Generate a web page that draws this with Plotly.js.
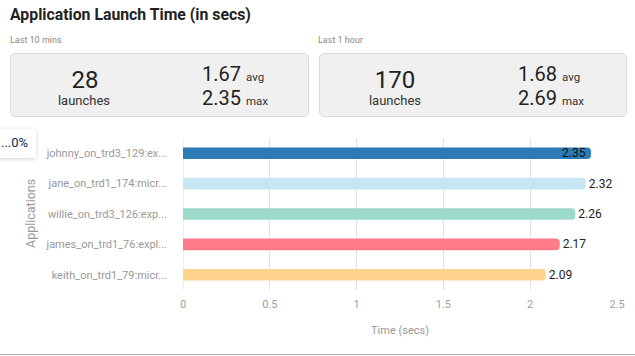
<!DOCTYPE html>
<html>
<head>
<meta charset="utf-8">
<script src="https://cdn.plot.ly/plotly-3.0.1.min.js"></script>
<style>
  html, body { margin:0; padding:0; background:#fff; font-family: Roboto, "Noto Sans", sans-serif; }
  #wrap { position:relative; width:635px; height:356px; overflow:hidden; }
  #chart { position:absolute; left:0; top:0; width:635px; height:356px; }
  .abs { position:absolute; white-space:nowrap; }
  .title { left:10px; top:5px; font-size:15.8px; font-weight:700; color:#222; }
  .sub { font-size:9px; color:#888; top:35px; }
  .card { position:absolute; top:53px; height:64px; background:#f0f0f0; border:1px solid #dadada; border-radius:5px; box-sizing:border-box; }
  .big { font-size:24px; color:#222; transform:translateX(-50%); }
  .lab { font-size:13px; color:#333; transform:translateX(-50%); }
  .num { font-size:20px; color:#222; }
  .unit { font-size:11.5px; color:#333; margin-left:5px; }
  .tip { left:-6px; top:129px; width:42px; height:29px; background:#fff; box-shadow:0 1px 4px rgba(0,0,0,0.18); border-radius:2px; }
  .tip span { position:absolute; left:7px; top:6px; font-size:13px; color:#0d2b55; }
  .bottomline { left:0; top:354px; width:635px; height:1px; background:#aaa; }
</style>
</head>
<body>
<div id="wrap">
  <div id="chart"></div>
  <div class="abs title">Application Launch Time (in secs)</div>
  <div class="abs sub" style="left:10px;">Last 10 mins</div>
  <div class="abs sub" style="left:318px;">Last 1 hour</div>
  <div class="card" style="left:10px; width:299px;"></div>
  <div class="card" style="left:319px; width:308px;"></div>
  <div class="abs big" style="left:85px; top:66px;">28</div>
  <div class="abs lab" style="left:84px; top:93px;">launches</div>
  <div class="abs" style="left:202px; top:62px;"><span class="num">1.67</span><span class="unit">avg</span></div>
  <div class="abs" style="left:202px; top:86px;"><span class="num">2.35</span><span class="unit">max</span></div>
  <div class="abs big" style="left:395px; top:66px;">170</div>
  <div class="abs lab" style="left:395px; top:93px;">launches</div>
  <div class="abs" style="left:518px; top:62px;"><span class="num">1.68</span><span class="unit">avg</span></div>
  <div class="abs" style="left:518px; top:86px;"><span class="num">2.69</span><span class="unit">max</span></div>
  <div class="abs tip"><span>...0%</span></div>
  <div class="abs bottomline"></div>
</div>
<script>
const categories = [
  "johnny_on_trd3_129:ex...",
  "jane_on_trd1_174:micr...",
  "willie_on_trd3_126:exp...",
  "james_on_trd1_76:expl...",
  "keith_on_trd1_79:micr..."
];
const launchTimes = [2.35, 2.32, 2.26, 2.17, 2.09];
const valueLabels = ["2.35", "2.32", "2.26", "2.17", "2.09"];
const barColors = ["#2c7bb6", "#c6e7f2", "#9edacb", "#ff7b8a", "#fed48d"];
const xTicks = [0, 0.5, 1, 1.5, 2, 2.5];
// labels that sit inside the end of their bar (no room outside)
const insideLabel = [true, false, false, false, false];

const trace = {
  type: 'bar',
  orientation: 'h',
  x: launchTimes,
  y: categories,
  text: valueLabels.map((t, i) => insideLabel[i] ? '' : t),
  textposition: 'outside',
  textfont: { family: 'Roboto', size: 12, color: '#222' },
  outsidetextfont: { family: 'Roboto', size: 12, color: '#222' },
  constraintext: 'none',
  cliponaxis: false,
  width: 0.38,
  marker: { color: barColors, cornerradius: 4, line: { width: 0 } },
  hoverinfo: 'none'
};

const insideAnnotations = launchTimes.map((v, i) => insideLabel[i] ? {
  x: v, y: categories[i], xref: 'x', yref: 'y',
  text: valueLabels[i], showarrow: false,
  xanchor: 'right', yanchor: 'middle', xshift: -3,
  font: { family: 'Roboto', size: 12, color: '#111' }
} : null).filter(a => a);

const layout = {
  width: 635, height: 356,
  margin: { l: 183, r: 18, t: 138, b: 66 },
  paper_bgcolor: 'rgba(0,0,0,0)',
  plot_bgcolor: 'rgba(0,0,0,0)',
  font: { family: 'Roboto', color: '#999' },
  showlegend: false,
  xaxis: {
    range: [0, 2.5],
    tickvals: xTicks,
    ticktext: xTicks.map(String),
    showgrid: true, gridcolor: '#e2e2e2', gridwidth: 1,
    zeroline: false, showline: false,
    tickfont: { family: 'Roboto', size: 11, color: '#a0a0a0' },
    ticklabelstandoff: 6,
    title: { text: 'Time (secs)', font: { family: 'Roboto', size: 11, color: '#999' }, standoff: 16 }
  },
  yaxis: {
    type: 'category',
    autorange: 'reversed',
    showgrid: false, zeroline: false, showline: false,
    tickfont: { family: 'Roboto', size: 11, color: '#999' },
    ticklabelstandoff: 15
  },
  annotations: [{
    text: 'Applications', textangle: -90,
    xref: 'paper', yref: 'paper',
    x: (30 - 183) / 434, y: 0.5,
    xanchor: 'center', yanchor: 'middle',
    showarrow: false,
    font: { family: 'Roboto', size: 12.5, color: '#999' }
  }].concat(insideAnnotations),
  shapes: [{
    type: 'line', xref: 'x', yref: 'paper', x0: 0, x1: 0, y0: 0, y1: 1,
    line: { color: '#e2e2e2', width: 1 }, layer: 'below'
  }]
};

Plotly.newPlot('chart', [trace], layout, { displayModeBar: false, staticPlot: true });
</script>
</body>
</html>
